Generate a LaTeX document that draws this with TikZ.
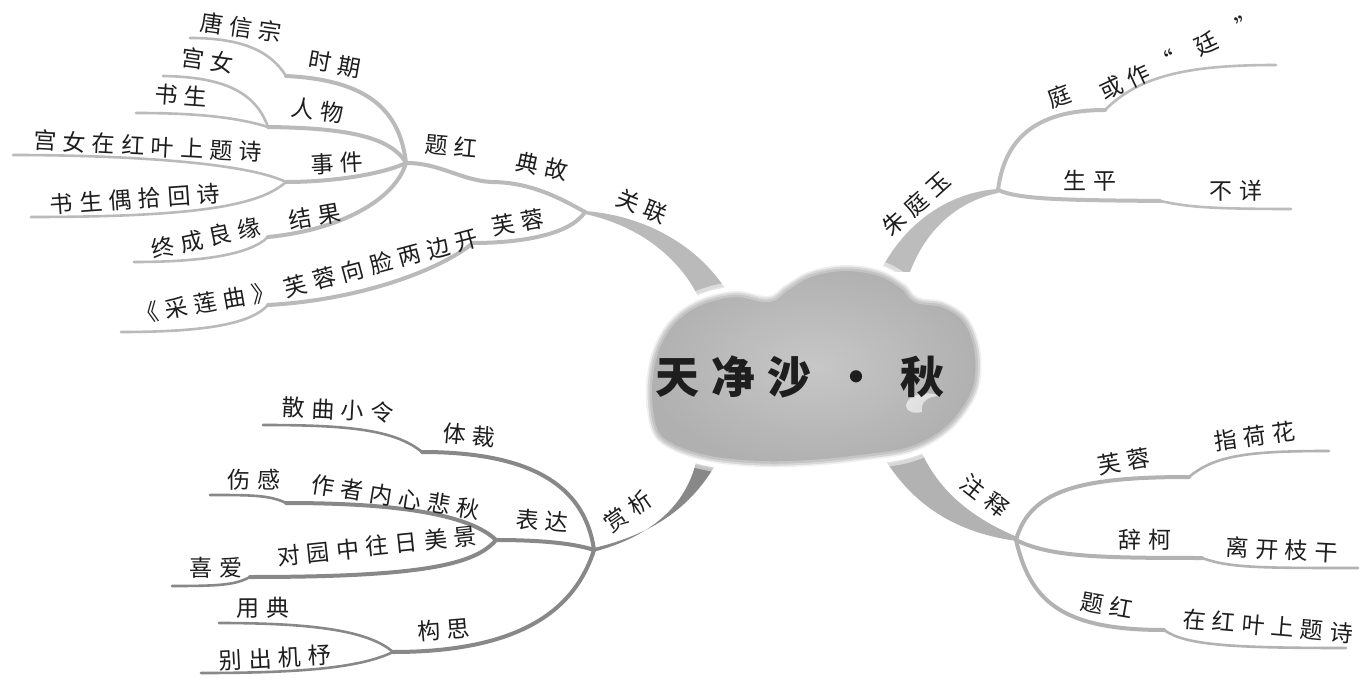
\documentclass[tikz,border=0pt]{standalone}
\usepackage{fontspec}
\setmainfont{Noto Sans CJK SC}
\newfontfamily\lblfont{Noto Sans CJK SC}[LetterSpace=28]
\newfontfamily\ttlfont{Noto Sans CJK SC}[LetterSpace=28]
\definecolor{ctl}{HTML}{BABABA}
\definecolor{ctr}{HTML}{BCBCBC}
\definecolor{cbl}{HTML}{888888}
\definecolor{cbr}{HTML}{B2B2B2}
\definecolor{txt}{HTML}{1E1E1E}
\tikzset{
  lab/.style={font=\lblfont\fontsize{23}{23}\selectfont, text=txt, inner sep=0pt},
  ttl/.style={font=\ttlfont\bfseries\fontsize{44}{44}\selectfont, text=txt, inner sep=0pt},
  innerline/.style={line width=4, line cap=round},
  leafline/.style={line width=2.6, line cap=round},
}
\newcommand{\mycloud}[1]{\path[#1] plot[smooth cycle, tension=0.6] coordinates {(652,432) (646,392) (652,352) (670,320) (698,300) (735,291) (768,296) (785,285) (810,271) (845,265) (880,270) (905,284) (918,297) (945,302) (968,318) (980,348) (980,383) (968,410) (945,435) (910,453) (860,461) (810,466) (760,467) (710,462) (672,450)};}
\begin{document}
\begin{tikzpicture}[x=1pt,y=-1pt]
\useasboundingbox (0,0) rectangle (1362,684);
\fill[white] (0,0) rectangle (1362,684);

% ---------- coordinates ----------
\coordinate (J1) at (585,212);
\coordinate (S1) at (491,182);
\coordinate (J2) at (406,163);
\coordinate (P1) at (286,76);
\coordinate (E1) at (190,38);
\coordinate (P2) at (268,127);
\coordinate (E2) at (163,76);
\coordinate (E3) at (136,113);
\coordinate (P3) at (286,182);
\coordinate (E4) at (13,155);
\coordinate (E5) at (31,217);
\coordinate (P4) at (268,237);
\coordinate (E6) at (134,262);
\coordinate (P5) at (473,243);
\coordinate (P6) at (268,305);
\coordinate (E7) at (121,332);

\coordinate (J3) at (998,190);
\coordinate (S2) at (1105,110);
\coordinate (E8) at (1276,65);
\coordinate (S3) at (1160,201);
\coordinate (E9) at (1291,209);

\coordinate (J4) at (594,550);
\coordinate (S4) at (422,452);
\coordinate (E10) at (263,425);
\coordinate (J5) at (496,540);
\coordinate (S5) at (286,503);
\coordinate (E11) at (210,495);
\coordinate (S6) at (250,577);
\coordinate (E12) at (172,586);
\coordinate (J6) at (393,652);
\coordinate (E13) at (219,623);
\coordinate (E14) at (201,673);

\coordinate (J7) at (1016,540);
\coordinate (S7) at (1189,477);
\coordinate (E15) at (1329,451);
\coordinate (S8) at (1202,558);
\coordinate (E16) at (1358,568);
\coordinate (S9) at (1164,630);
\coordinate (E17) at (1346,648);

% ---------- top-left lines ----------
\begin{scope}[draw=ctl]
\draw[innerline] (J1) .. controls (560,198) and (530,182) .. (S1) .. controls (460,180) and (440,163) .. (J2);
\draw[innerline] (J2) .. controls (400,112) and (370,80) .. (P1);
\draw[leafline] (P1) .. controls (270,50) and (240,38) .. (E1);
\draw[innerline] (J2) .. controls (390,135) and (340,128) .. (P2);
\draw[leafline] (P2) .. controls (255,90) and (220,77) .. (E2);
\draw[leafline] (P2) .. controls (230,115) and (180,113) .. (E3);
\draw[innerline] (J2) .. controls (380,175) and (330,182) .. (P3);
\draw[leafline] (P3) .. controls (240,160) and (100,155) .. (E4);
\draw[leafline] (P3) .. controls (260,205) and (200,217) .. (E5);
\draw[innerline] (J2) .. controls (395,200) and (340,230) .. (P4);
\draw[leafline] (P4) .. controls (250,255) and (200,262) .. (E6);
\draw[innerline] (J1) .. controls (570,235) and (520,243) .. (P5);
\draw[innerline] (P5) .. controls (440,270) and (360,300) .. (P6);
\draw[leafline] (P6) .. controls (250,325) and (200,332) .. (E7);
\end{scope}
\fill[ctl] (585,211) .. controls (650,216) and (705,250) .. (732,300) -- (700,300) .. controls (680,258) and (640,226) .. (585,214) -- cycle;

% ---------- top-right lines ----------
\begin{scope}[draw=ctr]
\draw[innerline] (J3) .. controls (1005,135) and (1040,110) .. (S2);
\draw[leafline] (S2) .. controls (1140,75) and (1190,65) .. (E8);
\draw[innerline] (J3) .. controls (1020,200) and (1070,200) .. (S3);
\draw[leafline] (S3) .. controls (1185,206) and (1200,209) .. (E9);
\end{scope}
\fill[ctr] (998,189) .. controls (950,192) and (905,222) .. (880,272) -- (910,272) .. controls (925,232) and (955,202) .. (998,193) -- cycle;

% ---------- bottom-left lines ----------
\begin{scope}[draw=cbl]
\draw[innerline] (J4) .. controls (585,485) and (530,452) .. (S4);
\draw[leafline] (S4) .. controls (395,430) and (350,425) .. (E10);
\draw[innerline] (J4) .. controls (570,542) and (530,540) .. (J5);
\draw[innerline] (J5) .. controls (470,515) and (400,503) .. (S5);
\draw[leafline] (S5) .. controls (270,495) and (250,495) .. (E11);
\draw[innerline] (J5) .. controls (475,565) and (420,577) .. (S6);
\draw[leafline] (S6) .. controls (235,585) and (220,586) .. (E12);
\draw[innerline] (J4) .. controls (575,610) and (520,652) .. (J6);
\draw[leafline] (J6) .. controls (370,632) and (320,623) .. (E13);
\draw[leafline] (J6) .. controls (360,668) and (300,673) .. (E14);
\end{scope}
\fill[cbl] (593,552) .. controls (650,537) and (690,505) .. (698,452) -- (722,452) .. controls (692,515) and (640,537) .. (594,548) -- cycle;

% ---------- bottom-right lines ----------
\begin{scope}[draw=cbr]
\draw[innerline] (J7) .. controls (1030,490) and (1080,477) .. (S7);
\draw[leafline] (S7) .. controls (1215,455) and (1250,451) .. (E15);
\draw[innerline] (J7) .. controls (1050,557) and (1100,558) .. (S8);
\draw[leafline] (S8) .. controls (1230,568) and (1260,568) .. (E16);
\draw[innerline] (J7) .. controls (1030,600) and (1060,630) .. (S9);
\draw[leafline] (S9) .. controls (1185,645) and (1230,648) .. (E17);
\end{scope}
\fill[cbr] (875,442) .. controls (905,500) and (950,532) .. (1017,541) -- (1017,537) .. controls (968,516) and (935,488) .. (917,442) -- cycle;

% ---------- cloud ----------
\mycloud{draw=white, line width=18, opacity=0.5}
\mycloud{draw=white, line width=9}
\mycloud{inner color=black!22, outer color=black!31, shade}
\mycloud{draw=white, line width=12, opacity=0.25}
\mycloud{draw=white, line width=7, opacity=0.35}
\mycloud{draw=white, line width=3, opacity=0.6}
\fill[white, opacity=0.6] (906,405) .. controls (908,395) and (925,390) .. (940,396) .. controls (928,396) and (920,402) .. (922,412) .. controls (914,414) and (906,412) .. cycle;
\node[ttl] (title) at (800,377) {天净沙 · 秋};

% ---------- top-left labels ----------
\node[lab, rotate=-22] (gl) at (642,206) {关联};
\node[lab, rotate=-12] (dg) at (542,166) {典故};
\node[lab, rotate=-5] (th) at (451,146) {题红};
\node[lab, rotate=-10] (sq) at (335,64) {时期};
\node[lab, rotate=-8] (txz) at (241,27) {唐信宗};
\node[lab, rotate=-8] (rw) at (318,110) {人物};
\node[lab, rotate=-8] (gn) at (208,60) {宫女};
\node[lab, rotate=-4] (ss) at (181,96) {书生};
\node[lab, rotate=3] (sj) at (337,163) {事件};
\node[lab, rotate=-3] (gnz) at (148,146) {宫女在红叶上题诗};
\node[lab, rotate=4] (sso) at (135,199) {书生偶拾回诗};
\node[lab, rotate=10] (jg) at (315,216) {结果};
\node[lab, rotate=12] (zc) at (206,238) {终成良缘};
\node[lab, rotate=10] (fr) at (518,222) {芙蓉};
\node[lab, rotate=15] (frx) at (381,263) {芙蓉向脸两边开};
\node[lab, rotate=10] (clq) at (205,303) {《采莲曲》};

% ---------- top-right labels ----------
\node[lab, rotate=42] (zty) at (916,204) {朱庭玉};
\node[lab, rotate=20] (ting) at (1059,96) {庭};
\node[lab, rotate=25] (hz) at (1180,56) {或作“ \ 廷 \ ”};
\node[lab] (sp) at (1090,181) {生平};
\node[lab] (bx) at (1236,191) {不详};

% ---------- bottom-left labels ----------
\node[lab, rotate=35] (sx) at (628,511) {赏析};
\node[lab, rotate=-5] (tc) at (469,435) {体裁};
\node[lab, rotate=-3] (sqx) at (338,410) {散曲小令};
\node[lab, rotate=-5] (bd) at (542,521) {表达};
\node[lab] (sg) at (254,480) {伤感};
\node[lab, rotate=-9] (zz) at (396,497) {作者内心悲秋};
\node[lab, rotate=6] (dy) at (377,546) {对园中往日美景};
\node[lab] (xa) at (216,568) {喜爱};
\node[lab, rotate=5] (gs) at (444,630) {构思};
\node[lab] (yd) at (263,608) {用典};
\node[lab, rotate=3] (bc) at (275,658) {别出机杼};

% ---------- bottom-right labels ----------
\node[lab, rotate=-38] (zs) at (985,496) {注释};
\node[lab, rotate=10] (fr2) at (1124,461) {芙蓉};
\node[lab, rotate=8] (zhh) at (1255,436) {指荷花};
\node[lab] (ck) at (1145,540) {辞柯};
\node[lab, rotate=-3] (lk) at (1282,550) {离开枝干};
\node[lab, rotate=-10] (th2) at (1107,605) {题红};
\node[lab, rotate=-5] (zh) at (1268,626) {在红叶上题诗};
\end{tikzpicture}
\end{document}
